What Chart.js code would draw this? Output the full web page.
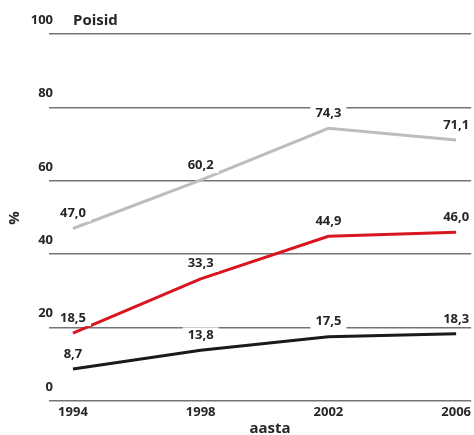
<!DOCTYPE html>
<html>
<head>
<meta charset="utf-8">
<script src="https://cdn.jsdelivr.net/npm/chart.js@4"></script>
<style>
  html, body { margin: 0; padding: 0; background: #fff; }
  #wrap { width: 474px; height: 435px; position: relative; }
</style>
</head>
<body>
<div id="wrap"><canvas id="lineChart"></canvas></div>
<script>
  const years = [1994, 1998, 2002, 2006];
  const grayValues = [47.0, 60.2, 74.3, 71.1];
  const redValues = [18.5, 33.3, 44.9, 46.0];
  const blackValues = [8.7, 13.8, 17.5, 18.3];
  const yTicks = [0, 20, 40, 60, 80, 100];

  const textColor = '#262626';
  const fontFamily = "'Open Sans', sans-serif";

  const toPoints = (vals) => vals.map((v, i) => ({ x: years[i], y: v }));
  const fmt = (v) => v.toFixed(1).replace('.', ',');

  // value labels on white boxes + custom axis texts
  const textPlugin = {
    id: 'textPlugin',
    afterDatasetsDraw(chart) {
      const { ctx } = chart;
      ctx.save();
      ctx.font = 'bold 13px ' + fontFamily;
      ctx.textAlign = 'center';
      ctx.textBaseline = 'middle';
      chart.data.datasets.forEach((ds, di) => {
        chart.getDatasetMeta(di).data.forEach((pt, i) => {
          const txt = fmt(ds.data[i].y);
          const w = ctx.measureText(txt).width + 10;
          const cy = pt.y - 15;
          ctx.fillStyle = '#fff';
          ctx.fillRect(pt.x - w / 2, cy - 8, w, 16);
          ctx.fillStyle = textColor;
          ctx.fillText(txt, pt.x, cy);
        });
      });
      ctx.restore();
    },
    afterDraw(chart) {
      const { ctx } = chart;
      const y = chart.scales.y;
      ctx.save();
      ctx.fillStyle = textColor;
      ctx.font = 'bold 13px ' + fontFamily;
      ctx.textAlign = 'right';
      ctx.textBaseline = 'middle';
      yTicks.forEach(t => {
        ctx.fillText(String(t), 53, y.getPixelForValue(t) - 14);
      });

      ctx.font = 'bold 15px ' + fontFamily;
      ctx.textAlign = 'left';
      ctx.fillText('Poisid', 73, y.getPixelForValue(100) - 13);

      ctx.textAlign = 'center';
      ctx.fillText('aasta', 270, 429);

      ctx.translate(15, 218);
      ctx.rotate(-Math.PI / 2);
      ctx.fillText('%', 0, 0);
      ctx.restore();
    }
  };

  const lineChart = new Chart(document.getElementById('lineChart'), {
    type: 'line',
    data: {
      datasets: [
        { data: toPoints(grayValues), borderColor: '#bdbdbd' },
        { data: toPoints(redValues), borderColor: '#d9151f' },
        { data: toPoints(blackValues), borderColor: '#1a1a1a' }
      ]
    },
    options: {
      responsive: true,
      maintainAspectRatio: false,
      animation: false,
      layout: {
        padding: { top: 34, left: 49, right: 0, bottom: 0 }
      },
      elements: {
        line: { borderWidth: 3, tension: 0 },
        point: { radius: 0 }
      },
      plugins: {
        legend: { display: false },
        tooltip: { enabled: false }
      },
      scales: {
        x: {
          type: 'linear',
          min: 1993.25,
          max: 2006.47,
          afterBuildTicks: (scale) => {
            scale.ticks = years.map(v => ({ value: v }));
          },
          afterFit: (scale) => { scale.height = 34; },
          grid: { display: false, drawTicks: false },
          border: { display: false },
          ticks: {
            color: textColor,
            padding: 3,
            maxRotation: 0,
            autoSkip: false,
            callback: (v) => String(v),
            font: { family: fontFamily, size: 13, weight: 'bold' }
          }
        },
        y: {
          min: 0,
          max: 100,
          afterBuildTicks: (scale) => {
            scale.ticks = yTicks.map(v => ({ value: v }));
          },
          afterFit: (scale) => { scale.width = 0; },
          border: { display: false },
          grid: {
            color: '#747474',
            lineWidth: 1.5,
            drawTicks: false
          },
          ticks: { display: false }
        }
      }
    },
    plugins: [textPlugin]
  });
</script>
</body>
</html>
